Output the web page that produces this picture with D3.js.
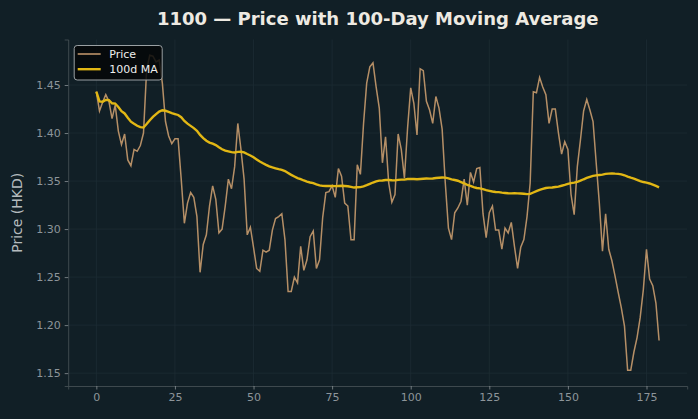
<!DOCTYPE html>
<html lang="en">
<head>
<meta charset="UTF-8">
<title>1100 price</title>
<style>
    body{ margin:0; background:#111f26; }
    svg{ display:block; font-family:"DejaVu Sans", sans-serif; }
</style>
<script src="https://cdn.jsdelivr.net/npm/d3@7"></script>
</head>
<body>
<script>
    const width = 698
    const height = 419

    // closing prices, one per trading day
    const prices = [
        1.443,1.423,1.432,1.440,1.433,1.415,1.429,1.402,1.388,1.399,
        1.372,1.366,1.383,1.381,1.387,1.400,1.466,1.481,1.480,1.474,
        1.476,1.452,1.412,1.397,1.389,1.394,1.394,1.352,1.306,1.327,
        1.338,1.333,1.313,1.255,1.284,1.294,1.324,1.345,1.331,1.296,
        1.300,1.324,1.352,1.342,1.365,1.410,1.383,1.352,1.294,1.302,
        1.281,1.259,1.256,1.278,1.276,1.278,1.299,1.311,1.313,1.316,
        1.289,1.235,1.235,1.250,1.244,1.282,1.257,1.268,1.292,1.298,
        1.259,1.268,1.312,1.338,1.339,1.345,1.333,1.363,1.355,1.327,
        1.324,1.289,1.289,1.367,1.357,1.410,1.452,1.469,1.473,1.448,
        1.426,1.369,1.396,1.348,1.328,1.336,1.399,1.383,1.353,1.405,
        1.447,1.431,1.398,1.467,1.465,1.433,1.424,1.410,1.438,1.426,
        1.404,1.348,1.301,1.289,1.317,1.322,1.329,1.352,1.325,1.359,
        1.349,1.363,1.364,1.316,1.291,1.317,1.324,1.299,1.299,1.279,
        1.301,1.296,1.307,1.282,1.259,1.281,1.289,1.313,1.348,1.443,
        1.442,1.458,1.448,1.440,1.410,1.425,1.425,1.400,1.378,1.391,
        1.383,1.336,1.315,1.365,1.393,1.423,1.435,1.424,1.412,1.369,
        1.327,1.277,1.316,1.279,1.267,1.251,1.234,1.218,1.199,1.153,
        1.153,1.172,1.187,1.208,1.237,1.279,1.248,1.241,1.223,1.184
    ]
    const days = prices.map((d,i)=>i)
    const maWindow = 100

    const xTicks = [0,25,50,75,100,125,150,175]
    const yTicks = [1.15,1.20,1.25,1.30,1.35,1.40,1.45]

    // 100-day rolling mean (min 1 period)
    const ma = prices.map((d,i)=>d3.mean(prices.slice(Math.max(0,i-maWindow+1),i+1)))

    const svg = d3.select("body").append("svg")
        .attr("width",width).attr("height",height)
        .attr("viewBox",`0 0 ${width} ${height}`)

    svg.append("rect").attr("width",width).attr("height",height).attr("fill","#111f26")

    const plotLeft = 68.2, plotRight = 687.2, plotTop = 39.5, plotBottom = 386

    const xPad = (days.length-1)*0.05
    const x = d3.scaleLinear()
        .domain([-xPad, days.length-1+xPad])
        .range([plotLeft,plotRight])

    const yExt = d3.extent(prices.concat(ma))
    const yPad = (yExt[1]-yExt[0])*0.05
    const y = d3.scaleLinear()
        .domain([yExt[0]-yPad, yExt[1]+yPad])
        .range([plotBottom,plotTop])

    // grid
    const grid = svg.append("g")
    grid.selectAll(".gx").data(xTicks).enter().append("line")
        .attr("x1",d=>x(d)).attr("x2",d=>x(d))
        .attr("y1",plotTop).attr("y2",plotBottom)
        .attr("stroke","#1d2c34").attr("stroke-width",0.8)
    grid.selectAll(".gy").data(yTicks).enter().append("line")
        .attr("x1",plotLeft).attr("x2",plotRight)
        .attr("y1",d=>y(d)).attr("y2",d=>y(d))
        .attr("stroke","#1d2c34").attr("stroke-width",0.8)

    // axes
    const xAxis = svg.append("g")
        .attr("transform",`translate(0,${plotBottom})`)
        .call(d3.axisBottom(x).tickValues(xTicks).tickSize(3.5).tickPadding(4))
    const yAxis = svg.append("g")
        .attr("transform",`translate(${plotLeft},0)`)
        .call(d3.axisLeft(y).tickValues(yTicks).tickFormat(d3.format(".2f")).tickSize(3.5).tickPadding(4))

    ;[xAxis,yAxis].forEach(g=>{
        g.select(".domain").attr("stroke","#4a5459").attr("stroke-width",0.8)
        g.selectAll(".tick line").attr("stroke","#8a9296").attr("stroke-width",0.8)
        g.selectAll(".tick text").attr("fill","#8d959a").attr("font-size",11)
            .attr("font-family","DejaVu Sans")
    })

    // lines
    const line = d3.line().x((d,i)=>x(i)).y(d=>y(d))

    svg.append("path").datum(prices)
        .attr("d",line)
        .attr("fill","none")
        .attr("stroke","#c89b6e")
        .attr("stroke-width",1.5)
        .attr("stroke-opacity",0.9)

    svg.append("path").datum(ma)
        .attr("d",line)
        .attr("fill","none")
        .attr("stroke","#e2b714")
        .attr("stroke-width",2.4)

    // title + label
    svg.append("text")
        .attr("x",(plotLeft+plotRight)/2).attr("y",25)
        .attr("text-anchor","middle")
        .attr("fill","#eeeae2").attr("font-size",18).attr("font-weight","bold")
        .text("1100 — Price with 100-Day Moving Average")

    svg.append("text")
        .attr("transform",`translate(22,${(plotTop+plotBottom)/2}) rotate(-90)`)
        .attr("text-anchor","middle")
        .attr("fill","#b5bbbe").attr("font-size",14)
        .text("Price (HKD)")

    // legend
    const legend = svg.append("g").attr("transform",`translate(${plotLeft+6},${plotTop+6})`)
    legend.append("rect")
        .attr("width",88).attr("height",34.5).attr("rx",3)
        .attr("fill","#050708").attr("fill-opacity",0.85)
        .attr("stroke","#9aa0a3").attr("stroke-width",1)
    const items = [
        {name:"Price", color:"#c89b6e", w:1.5},
        {name:"100d MA", color:"#e2b714", w:2.4}
    ]
    const li = legend.selectAll(".li").data(items).enter().append("g")
        .attr("transform",(d,i)=>`translate(3.5,${8.5+i*15.2})`)
    li.append("line").attr("x1",0).attr("x2",23)
        .attr("stroke",d=>d.color).attr("stroke-width",d=>d.w)
    li.append("text").attr("x",31.5).attr("y",4)
        .attr("fill","#eeeeee").attr("font-size",11)
        .text(d=>d.name)
</script>
</body>
</html>
